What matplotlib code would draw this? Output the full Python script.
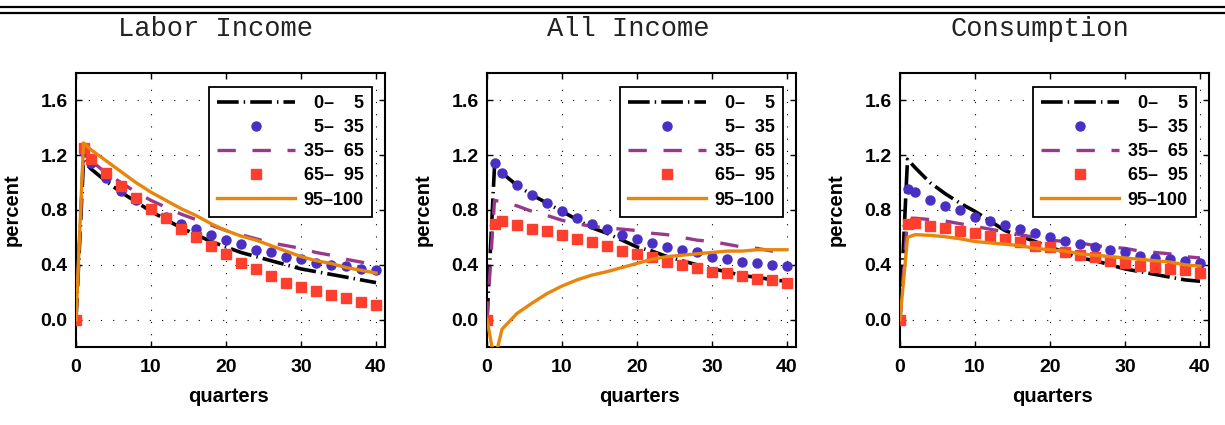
import numpy as np
import matplotlib
matplotlib.use('Agg')
import matplotlib.pyplot as plt
from matplotlib.lines import Line2D

# 字体设置
plt.rcParams['font.family'] = ['Liberation Sans', 'DejaVu Sans']
plt.rcParams['font.weight'] = 'bold'
plt.rcParams['axes.unicode_minus'] = False

# 数据：季度（标记每两个季度一个）
quarters = [0, 1, 2, 4, 6, 8, 10, 12, 14, 16, 18, 20, 22, 24, 26, 28, 30, 32, 34, 36, 38, 40]

group_labels = ['\u20070\u2013\u2007\u20075', '\u20075\u2013\u200735', '35\u2013\u200765',
                '65\u2013\u200795', '95\u2013100']
panel_titles = ['Labor Income', 'All Income', 'Consumption']

# Labor Income
labor_0_5 = [0, 1.16, 1.10, 1.01, 0.93, 0.86, 0.79, 0.73, 0.67, 0.62, 0.57, 0.53, 0.49, 0.46, 0.43, 0.40, 0.37, 0.35, 0.33, 0.31, 0.29, 0.27]
labor_5_35 = [0, 1.22, 1.14, 1.03, 0.94, 0.87, 0.81, 0.75, 0.70, 0.66, 0.62, 0.58, 0.55, 0.51, 0.49, 0.46, 0.44, 0.41, 0.40, 0.39, 0.37, 0.36]
labor_35_65 = [0, 1.22, 1.16, 1.07, 1.00, 0.93, 0.87, 0.82, 0.77, 0.73, 0.69, 0.65, 0.62, 0.59, 0.56, 0.54, 0.52, 0.49, 0.47, 0.44, 0.42, 0.40]
labor_65_95 = [0, 1.25, 1.17, 1.07, 0.975, 0.89, 0.81, 0.74, 0.66, 0.60, 0.54, 0.48, 0.41, 0.37, 0.32, 0.27, 0.24, 0.21, 0.18, 0.16, 0.13, 0.11]
labor_95_100 = [0, 1.29, 1.24, 1.16, 1.08, 1.00, 0.93, 0.87, 0.81, 0.76, 0.70, 0.65, 0.61, 0.58, 0.54, 0.50, 0.46, 0.43, 0.41, 0.38, 0.36, 0.34]

# All Income
all_0_5 = [0, 1.12, 1.07, 0.98, 0.91, 0.85, 0.79, 0.73, 0.67, 0.63, 0.58, 0.53, 0.50, 0.46, 0.43, 0.40, 0.37, 0.35, 0.32, 0.31, 0.29, 0.28]
all_5_35 = [0, 1.14, 1.07, 0.98, 0.91, 0.85, 0.79, 0.74, 0.70, 0.66, 0.62, 0.59, 0.56, 0.53, 0.51, 0.49, 0.46, 0.44, 0.42, 0.41, 0.40, 0.39]
all_35_65 = [0, 0.87, 0.86, 0.83, 0.79, 0.76, 0.725, 0.70, 0.68, 0.67, 0.66, 0.65, 0.63, 0.62, 0.60, 0.58, 0.57, 0.55, 0.53, 0.52, 0.50, 0.49]
all_65_95 = [0, 0.70, 0.72, 0.69, 0.66, 0.645, 0.62, 0.59, 0.57, 0.54, 0.50, 0.48, 0.46, 0.42, 0.40, 0.38, 0.35, 0.34, 0.32, 0.30, 0.29, 0.27]
all_95_100 = [0, -0.30, -0.07, 0.045, 0.12, 0.19, 0.245, 0.29, 0.325, 0.35, 0.38, 0.41, 0.44, 0.46, 0.47, 0.48, 0.49, 0.50, 0.50, 0.51, 0.51, 0.51]

# Consumption
cons_0_5 = [0, 1.17, 1.11, 1.00, 0.92, 0.85, 0.79, 0.72, 0.65, 0.61, 0.57, 0.53, 0.49, 0.45, 0.43, 0.40, 0.37, 0.35, 0.33, 0.31, 0.29, 0.28]
cons_5_35 = [0, 0.955, 0.93, 0.875, 0.83, 0.80, 0.75, 0.72, 0.69, 0.66, 0.63, 0.60, 0.575, 0.55, 0.53, 0.51, 0.49, 0.465, 0.45, 0.44, 0.43, 0.41]
cons_35_65 = [0, 0.74, 0.74, 0.73, 0.72, 0.70, 0.68, 0.66, 0.64, 0.62, 0.60, 0.58, 0.57, 0.56, 0.54, 0.53, 0.52, 0.50, 0.49, 0.48, 0.46, 0.45]
cons_65_95 = [0, 0.70, 0.705, 0.685, 0.67, 0.65, 0.63, 0.61, 0.585, 0.57, 0.54, 0.53, 0.495, 0.47, 0.46, 0.43, 0.41, 0.39, 0.385, 0.37, 0.36, 0.34]
cons_95_100 = [0, 0.60, 0.62, 0.615, 0.605, 0.59, 0.57, 0.56, 0.55, 0.54, 0.52, 0.51, 0.50, 0.48, 0.47, 0.46, 0.45, 0.44, 0.43, 0.42, 0.40, 0.39]

panels = [
    [labor_0_5, labor_5_35, labor_35_65, labor_65_95, labor_95_100],
    [all_0_5, all_5_35, all_35_65, all_65_95, all_95_100],
    [cons_0_5, cons_5_35, cons_35_65, cons_65_95, cons_95_100],
]

# 颜色
c_black = 'black'
c_blue = '#4a2fc4'
c_purple = '#973a8c'
c_red = '#ff3f2e'
c_orange = '#e8850c'


def draw_panel(ax, series):
    q = np.array(quarters)
    ax.plot(q, series[0], color=c_black, lw=2.6, dashes=(6.0, 1.4, 0.4, 1.4),
            label=group_labels[0], zorder=3)
    ax.plot(q, series[1], ls='none', marker='o', ms=6.5, color=c_blue,
            mec=c_blue, label=group_labels[1], zorder=4)
    ax.plot(q, series[2], color=c_purple, lw=2.4, dashes=(5.5, 5.0),
            label=group_labels[2], zorder=3)
    ax.plot(q, series[3], ls='none', marker='s', ms=6.5, color=c_red,
            mec=c_red, label=group_labels[3], zorder=5)
    ax.plot(q, series[4], color=c_orange, lw=2.4, label=group_labels[4], zorder=6)

    ax.set_xlim(0, 41.2)
    ax.set_ylim(-0.2, 1.8)
    ax.set_xticks([0, 10, 20, 30, 40])
    ax.set_yticks([0.0, 0.4, 0.8, 1.2, 1.6])
    ax.set_yticklabels(['0.0', '0.4', '0.8', '1.2', '1.6'])
    ax.tick_params(direction='in', length=4, width=1, labelsize=14, top=True, right=True)
    ax.tick_params(axis='x', pad=9)
    ax.tick_params(axis='y', pad=6)
    for lab in ax.get_xticklabels() + ax.get_yticklabels():
        lab.set_fontweight('bold')
    for sp in ax.spines.values():
        sp.set_linewidth(1.5)
    ax.grid(True, color='black', lw=0.8, dashes=(1, 10))
    ax.set_axisbelow(True)

    ax.set_ylabel('percent', fontsize=14.5, fontweight='bold')
    ax.yaxis.set_label_coords(-0.175, 0.5)
    ax.set_xlabel('quarters', fontsize=14.5, fontweight='bold')
    ax.xaxis.set_label_coords(0.495, -0.145)

    leg = ax.legend(loc='upper right', bbox_to_anchor=(0.958, 0.95), borderaxespad=0,
                    fancybox=False, framealpha=1, edgecolor='black', fontsize=13,
                    handlelength=4.3, handletextpad=0.5, labelspacing=0.4,
                    borderpad=0.45, numpoints=1)
    leg.get_frame().set_linewidth(1.3)
    for t in leg.get_texts():
        t.set_fontweight('bold')


fig = plt.figure(figsize=(12.25, 4.25), dpi=100)

lefts = [76, 487, 900]
title_centers = [215, 628, 1040]
for i in range(3):
    ax = fig.add_axes([lefts[i] / 1225, 1 - 347 / 425, 309 / 1225, 274 / 425])
    draw_panel(ax, panels[i])
    fig.text(title_centers[i] / 1225, 1 - 29 / 425, panel_titles[i],
             family='Liberation Mono', fontsize=19.5, fontweight='normal',
             ha='center', va='center', color='#222222')

# 顶部双线
for y in [7.3, 12.7]:
    fig.add_artist(Line2D([0, 1], [1 - y / 425, 1 - y / 425], color='black', lw=1.6,
                          transform=fig.transFigure))

plt.savefig('out.png', dpi=100)
